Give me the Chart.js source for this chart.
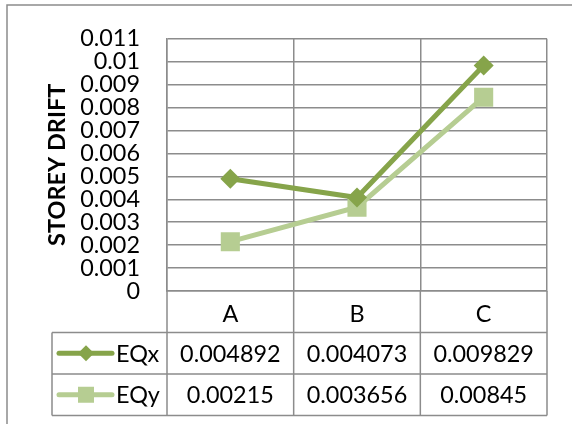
<!DOCTYPE html>
<html lang="en">
<head>
    <meta charset="UTF-8">
    <title>Storey Drift</title>
    <script src="https://cdn.jsdelivr.net/npm/chart.js"></script>
    <style>
        body { margin: 0; background: #ffffff; }
        .wrap { position: relative; width: 572px; height: 424px; }
    </style>
</head>
<body>
    <div class="wrap">
        <canvas id="chart" width="572" height="424"></canvas>
    </div>

    <script>
        // data
        const categories = ['A', 'B', 'C'];
        const eqx = [0.004892, 0.004073, 0.009829];
        const eqy = [0.00215, 0.003656, 0.00845];
        const yTicks = { min: 0, max: 0.011, step: 0.001 };

        const darkGreen = '#86a44a';
        const lightGreen = '#b6cd92';
        const gridColor = '#8c8c8c';
        const fontFamily = 'Lato, "Open Sans", sans-serif';
        const textSize = 23.4;

        // draws the excel-style data table under the plot
        const dataTable = {
            id: 'dataTable',
            afterDraw(chart) {
                const ctx = chart.ctx;
                const xs = chart.scales.x;
                const area = chart.chartArea;
                const band = (area.right - area.left) / categories.length;
                const rowH = 41.5;
                const top = area.bottom;
                const r1 = top + rowH, r2 = r1 + rowH, r3 = r2 + rowH;
                const legendLeft = 52;

                ctx.save();
                ctx.strokeStyle = gridColor;
                ctx.lineWidth = 1.5;
                ctx.beginPath();
                [r1, r2, r3].forEach(y => { ctx.moveTo(legendLeft, y); ctx.lineTo(area.right, y); });
                ctx.moveTo(legendLeft, r1); ctx.lineTo(legendLeft, r3);
                for (let i = 0; i <= categories.length; i++) {
                    const x = area.left + i * band;
                    ctx.moveTo(x, top); ctx.lineTo(x, r3);
                }
                // outer frame of the chart object
                ctx.moveTo(7, 424); ctx.lineTo(7, 5); ctx.lineTo(572, 5);
                ctx.stroke();

                ctx.font = textSize + 'px ' + fontFamily;
                ctx.fillStyle = '#000000';
                ctx.textBaseline = 'middle';
                ctx.textAlign = 'center';
                const rows = [eqx, eqy];
                rows.forEach((vals, r) => {
                    const cy = r1 + rowH * r + rowH / 2 + 1;
                    vals.forEach((v, i) => {
                        ctx.fillText(String(v), xs.getPixelForValue(i), cy);
                    });
                });

                // legend keys
                chart.data.datasets.forEach((ds, r) => {
                    const cy = r1 + rowH * r + rowH / 2;
                    ctx.strokeStyle = ds.borderColor;
                    ctx.lineWidth = 5;
                    ctx.lineCap = 'round';
                    ctx.beginPath();
                    ctx.moveTo(59, cy); ctx.lineTo(112, cy);
                    ctx.stroke();
                    ctx.fillStyle = ds.borderColor;
                    ctx.beginPath();
                    if (ds.pointStyle === 'rectRot') {
                        ctx.moveTo(86, cy - 8); ctx.lineTo(94, cy); ctx.lineTo(86, cy + 8); ctx.lineTo(78, cy);
                    } else {
                        ctx.rect(78, cy - 8, 16, 16);
                    }
                    ctx.fill();
                    ctx.fillStyle = '#000000';
                    ctx.textAlign = 'left';
                    ctx.fillText(ds.label, 116, cy + 1);
                });
                ctx.restore();
            }
        };

        new Chart(document.getElementById('chart').getContext('2d'), {
            type: 'line',
            data: {
                labels: categories,
                datasets: [{
                    label: 'EQx',
                    data: eqx,
                    borderColor: darkGreen,
                    backgroundColor: darkGreen,
                    borderWidth: 5,
                    pointStyle: 'rectRot',
                    pointRadius: 10,
                    pointBorderWidth: 0,
                    fill: false
                }, {
                    label: 'EQy',
                    data: eqy,
                    borderColor: lightGreen,
                    backgroundColor: lightGreen,
                    borderWidth: 5,
                    pointStyle: 'rect',
                    pointRadius: 13.5,
                    pointBorderWidth: 0,
                    fill: false
                }]
            },
            options: {
                responsive: false,
                animation: false,
                layout: { padding: { left: 0, top: 35, right: 25, bottom: 0 } },
                plugins: {
                    legend: { display: false },
                    tooltip: { enabled: false }
                },
                scales: {
                    x: {
                        offset: true,
                        afterFit: s => { s.height = 133; },
                        grid: { color: gridColor, lineWidth: 1.5, drawTicks: false, offset: true },
                        border: { color: gridColor, width: 1.5 },
                        ticks: { color: '#000', padding: 9, font: { family: fontFamily, size: textSize } }
                    },
                    y: {
                        min: yTicks.min,
                        max: yTicks.max,
                        afterFit: s => { s.width = 167; },
                        grid: { color: gridColor, lineWidth: 1.5, drawTicks: false },
                        border: { color: gridColor, width: 1.5 },
                        ticks: {
                            stepSize: yTicks.step,
                            autoSkip: false,
                            padding: 27,
                            color: '#000',
                            font: { family: fontFamily, size: textSize, lineHeight: 1 },
                            callback: v => String(parseFloat(v.toFixed(3)))
                        },
                        title: {
                            display: true,
                            text: 'STOREY DRIFT',
                            color: '#000',
                            font: { family: fontFamily, size: 23.5, weight: 'bold' },
                            padding: { top: 43, bottom: 0 }
                        }
                    }
                }
            },
            plugins: [dataTable]
        });
    </script>
</body>
</html>
